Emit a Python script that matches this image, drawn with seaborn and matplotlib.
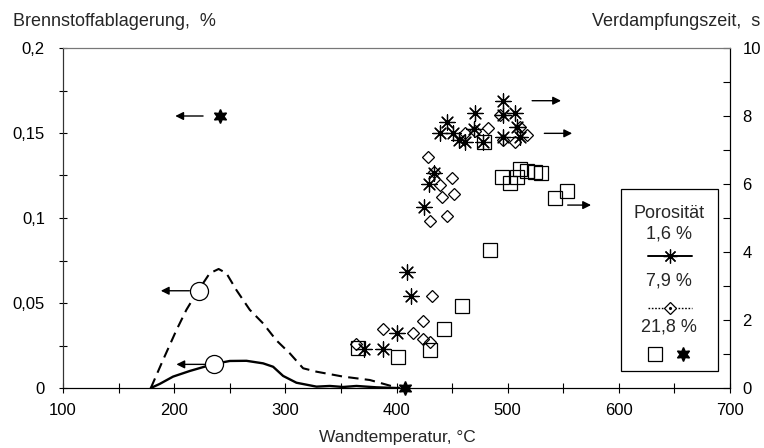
import matplotlib
matplotlib.use("Agg")
import matplotlib.pyplot as plt
from matplotlib.lines import Line2D
from matplotlib.patches import Rectangle
from matplotlib.ticker import FuncFormatter, MultipleLocator
import numpy as np
import pandas as pd
import seaborn as sns

# ---------------- data ----------------
# deposit curves (left axis, %)
curve_dash_T = [179, 190, 202, 211, 220, 232, 240, 247, 256, 268, 280, 292, 304, 316, 328, 352, 376, 394, 403]
curve_dash_v = [0, 0.0165, 0.034, 0.046, 0.0557, 0.0675, 0.070, 0.0675, 0.0576, 0.046, 0.038, 0.028, 0.0204,
                0.0116, 0.0096, 0.0067, 0.0047, 0.0014, 0]
curve_solid_T = [179, 187, 199, 214, 235, 250, 265, 280, 289, 298, 310, 328, 340, 352, 364, 382, 400]
curve_solid_v = [0, 0.0024, 0.0067, 0.010, 0.014, 0.0159, 0.016, 0.0145, 0.0125, 0.0071, 0.0031, 0.0008,
                 0.0012, 0.0006, 0.0012, 0.0004, 0]

# circles on the curves (left axis)
circle_T = [222, 236]
circle_v = [0.0572, 0.0139]

# evaporation time (right axis, s)
p16_T = [445, 439, 451, 456, 462, 471, 470, 434, 429, 425, 496, 496, 507, 508, 496, 511, 478, 409, 413, 400, 388, 371]
p16_v = [7.83, 7.51, 7.51, 7.29, 7.24, 8.08, 7.61, 6.31, 6.0, 5.33, 8.45, 8.03, 8.08, 7.67, 7.37, 7.37, 7.24,
         3.42, 2.71, 1.61, 1.14, 1.14]
p79_T = [428, 434, 450, 439, 441, 452, 430, 445, 462, 471, 482, 493, 496, 507, 511, 517, 432, 424, 388, 415, 424, 430, 364]
p79_v = [6.80, 6.36, 6.17, 5.97, 5.61, 5.71, 4.92, 5.06, 7.49, 7.57, 7.64, 8.03, 7.29, 7.24, 7.69, 7.44,
         2.71, 1.98, 1.73, 1.61, 1.43, 1.36, 1.29]
p218_T = [479, 495, 502, 511, 508, 517, 525, 530, 543, 553, 484, 459, 443, 430, 401, 365]
p218_v = [7.24, 6.20, 6.02, 6.44, 6.21, 6.38, 6.36, 6.33, 5.60, 5.80, 4.06, 2.41, 1.73, 1.12, 0.92, 1.17]

# 21.8 % deposit points (left axis)
hex_T = [241, 408]
hex_v = [0.16, 0.0]

# arrows: (x_from, x_to, y) ; left axis ones and right axis ones
arrows_left = [(226, 201, 0.16), (213.7, 188, 0.0572), (228.7, 202, 0.0139)]
arrows_right = [(522, 548, 8.45), (533, 558, 7.49), (554, 575, 5.38)]

x_ticks = [100, 200, 300, 400, 500, 600, 700]
left_ticks = [0, 0.05, 0.1, 0.15, 0.2]
right_ticks = [0, 2, 4, 6, 8, 10]

# ---------------- style ----------------
sns.set_theme(style="white")
plt.rcParams['font.family'] = ['Liberation Sans', 'DejaVu Sans']
plt.rcParams['font.size'] = 12

W, H = 764, 448
fig = plt.figure(figsize=(W / 100, H / 100), dpi=100)
L, R, T, B = 63, 730, 48, 388
ax = fig.add_axes([L / W, 1 - B / H, (R - L) / W, (B - T) / H])
ax2 = ax.twinx()


def fp(x, y):
    return (x / W, 1 - y / H)


# curves
sns.lineplot(x=curve_solid_T, y=curve_solid_v, ax=ax, color="black", lw=1.7, sort=False, estimator=None)
sns.lineplot(x=curve_dash_T, y=curve_dash_v, ax=ax, color="black", lw=1.5, sort=False, estimator=None)
ax.lines[-1].set_linestyle((0, (5, 3)))
ax.plot(circle_T, circle_v, 'o', mfc="white", mec="black", mew=0.9, ms=13, zorder=5)
ax.plot(hex_T, hex_v, marker=(6, 1, 0), ls="none", color="black", ms=10, zorder=6, clip_on=False)

for x0, x1, y in arrows_left:
    ax.annotate("", xy=(x1, y), xytext=(x0, y),
                arrowprops=dict(arrowstyle="-|>", color="black", lw=1.0, mutation_scale=12,
                                shrinkA=0, shrinkB=0))

# scatter on right axis
ax2.plot(p79_T, p79_v, 'D', mfc="none", mec="black", mew=0.9, ms=6.6, ls="none")
ax2.plot(p218_T, p218_v, 's', mfc="none", mec="black", mew=0.9, ms=9.5, ls="none")
sns.scatterplot(x=p16_T, y=p16_v, ax=ax2, marker=(8, 2, 0), s=120, color="black", linewidth=0.9)
ax2.plot(p16_T, p16_v, '.', color="black", ms=3.5, ls="none")

for x0, x1, y in arrows_right:
    ax2.annotate("", xy=(x1, y), xytext=(x0, y),
                 arrowprops=dict(arrowstyle="-|>", color="black", lw=1.0, mutation_scale=12,
                                 shrinkA=0, shrinkB=0))

# axes limits/ticks
ax.set_xlim(100, 700)
ax.set_ylim(0, 0.2)
ax2.set_ylim(0, 10)
ax.set_xticks(x_ticks)
ax.xaxis.set_minor_locator(MultipleLocator(50))
ax.set_yticks(left_ticks)
ax.yaxis.set_minor_locator(MultipleLocator(0.025))
ax2.set_yticks(right_ticks)
ax2.yaxis.set_minor_locator(MultipleLocator(1))


def comma(v, pos):
    if abs(v) < 1e-12:
        return "0"
    return ("%g" % v).replace(".", ",")


ax.yaxis.set_major_formatter(FuncFormatter(comma))
ax.tick_params(axis="x", which="both", direction="inout", length=7, width=0.8, colors="black",
               labelsize=12, pad=7, bottom=True)
ax.tick_params(axis="y", which="both", direction="inout", length=6, width=0.8, colors="black",
               labelsize=12, pad=10, left=True)
ax2.tick_params(axis="y", which="both", direction="in", length=5, width=0.8, colors="black",
                labelsize=12, pad=9, right=True)
ax.set_xlabel("")
ax.set_ylabel("")
ax2.set_ylabel("")

for a in (ax, ax2):
    for s in a.spines.values():
        s.set_color("black")
        s.set_linewidth(0.8)
    a.spines["top"].set_color("#777777")
    a.spines["left"].set_color("#333333")

fig.text(13 / W, 1 - 21 / H, "Brennstoffablagerung,  %", ha="left", va="center", fontsize=13)
fig.text(760 / W, 1 - 21 / H, "Verdampfungszeit,  s", ha="right", va="center", fontsize=13)
fig.text(397 / W, 1 - 437 / H, "Wandtemperatur, °C", ha="center", va="center", fontsize=12.5)

# legend (custom box)
x0, y0 = fp(621, 371)
x1, y1 = fp(718, 189)
fig.patches.append(Rectangle((x0, y0), x1 - x0, y1 - y0, transform=fig.transFigure, fill=True,
                             facecolor="white", edgecolor="black", lw=0.9, zorder=10))
cx = 669
for txt, yy in [("Porosität", 213), ("1,6 %", 234), ("7,9 %", 281), ("21,8 %", 327)]:
    fig.text(*fp(cx, yy), txt, ha="center", va="center", fontsize=13, zorder=11)
xa, ya = fp(648, 256)
xb, _ = fp(692, 256)
fig.add_artist(Line2D([xa, xb], [ya, ya], color="black", lw=1.4, zorder=11, transform=fig.transFigure))
fig.add_artist(Line2D([(xa + xb) / 2], [ya], marker=(8, 2, 0), ms=10, color="black", mew=0.9,
                      ls="none", zorder=12, transform=fig.transFigure))
xa, ya = fp(648, 308)
xb, _ = fp(692, 308)
fig.add_artist(Line2D([xa, xb], [ya, ya], color="black", lw=1.0, ls=(0, (1.2, 1.2)), zorder=11,
                      transform=fig.transFigure))
fig.add_artist(Line2D([(xa + xb) / 2], [ya], marker="D", ms=6.6, mfc="white", mec="black", mew=0.9,
                      ls="none", zorder=12, transform=fig.transFigure))
fig.add_artist(Line2D([(xa + xb) / 2], [ya], marker=".", ms=2.5, color="black",
                      ls="none", zorder=13, transform=fig.transFigure))
fig.add_artist(Line2D([fp(655, 354)[0]], [fp(655, 354)[1]], marker="s", ms=9.5, mfc="white", mec="black",
                      mew=0.9, ls="none", zorder=12, transform=fig.transFigure))
fig.add_artist(Line2D([fp(683, 354)[0]], [fp(683, 354)[1]], marker=(6, 1, 0), ms=10, color="black",
                      ls="none", zorder=12, transform=fig.transFigure))

fig.savefig("out.png", dpi=100)
